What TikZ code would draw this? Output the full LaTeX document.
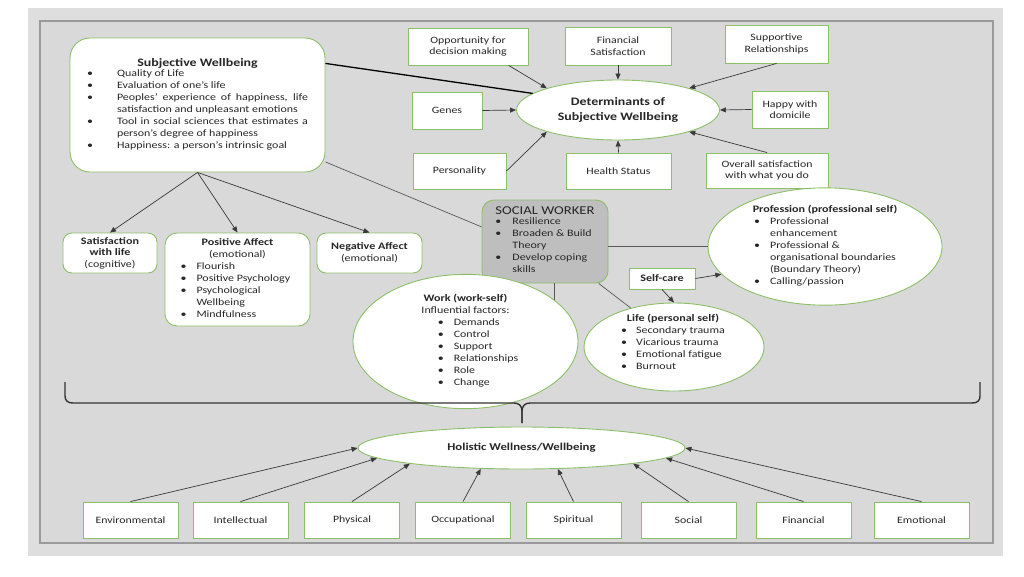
\documentclass[tikz,border=0pt]{standalone}
\usepackage{fontspec}
\setmainfont{Carlito}[FakeStretch=1.22]
\usetikzlibrary{shapes.geometric,arrows.meta}
\definecolor{bgout}{HTML}{DEDEDE}
\definecolor{bgin}{HTML}{D9D9D9}
\definecolor{panelline}{HTML}{9A9A9A}
\definecolor{gline}{HTML}{8CC068}
\definecolor{ac}{HTML}{3A3A3A}
\definecolor{swfill}{HTML}{BEBEBE}
\definecolor{txt}{HTML}{262626}
\newcommand\fsbody{\fontsize{9.8}{12}\selectfont}
\newcommand\fsbox{\fontsize{9.7}{11.5}\selectfont}
\newcommand\fsbot{\fontsize{9.7}{12}\selectfont}
\newcommand\fstitle{\fontsize{11.4}{15}\selectfont\bfseries}
\newcommand\fshol{\fontsize{10.5}{13}\selectfont\bfseries}
\newcommand\fssub{\fontsize{9.9}{12}\selectfont\bfseries}
\begin{document}
\begin{tikzpicture}[x=1pt,y=-1pt,
  gbox/.style={draw=gline, fill=white, line width=0.9pt, rectangle, align=center, inner sep=2pt, text=txt},
  gell/.style={draw=gline, fill=white, line width=0.9pt, ellipse, align=center, inner sep=0pt, text=txt},
  arr/.style={draw=ac, line width=0.7pt, -{Triangle[length=6pt,width=5pt]}},
  ln/.style={draw=ac, line width=0.7pt},
  thinln/.style={draw=black!65, line width=0.7pt},
  brace/.style={draw=black!80, line width=1.4pt},
  plain/.style={inner sep=0pt, align=left, text=txt}
]
% background
\useasboundingbox (0,0) rectangle (1024,576);
\fill[white] (0,0) rectangle (1024,576);
\fill[bgout] (28,8) rectangle (1003,556);
\draw[panelline, fill=bgin, line width=1.2pt] (40,21) rectangle (993,543);

% ---------- Subjective wellbeing ----------
\node[gbox, rounded corners=20pt, minimum width=255pt, minimum height=134pt] (subj) at (197.5,105) {%
{\fstitle Subjective Wellbeing}\\[-2pt]
\fsbody\begin{tabular}[t]{@{}p{30pt}@{}p{191pt}@{}}
\textbullet & Quality of Life\\
\textbullet & Evaluation of one’s life\\
\textbullet & Peoples’ experience of happiness, life\linebreak satisfaction and unpleasant emotions\\
\textbullet & Tool in social sciences that estimates a\linebreak person’s degree of happiness\\
\textbullet & Happiness: a person’s intrinsic goal
\end{tabular}};

% ---------- Determinants ----------
\node[gell, minimum width=203pt, minimum height=60pt, font=\fstitle] (det) at (618,110) {Determinants of\\Subjective Wellbeing};

\node[gbox, minimum width=120pt, minimum height=37pt, font=\fsbox] (opp) at (468,46.5) {Opportunity for\\decision making};
\node[gbox, minimum width=106pt, minimum height=38pt, font=\fsbox] (fin) at (618,46) {Financial\\Satisfaction};
\node[gbox, minimum width=103pt, minimum height=38pt, font=\fsbox] (sup) at (776.5,44) {Supportive\\Relationships};
\node[gbox, minimum width=70pt, minimum height=37pt, font=\fsbox] (genes) at (447,110.5) {Genes};
\node[gbox, minimum width=76pt, minimum height=37pt, font=\fsbox] (happy) at (790,109.5) {Happy with\\domicile};
\node[gbox, minimum width=93pt, minimum height=36pt, font=\fsbox] (pers) at (459.5,171) {Personality};
\node[gbox, minimum width=105pt, minimum height=36pt, font=\fsbox] (health) at (618.5,171) {Health Status};
\node[gbox, minimum width=122pt, minimum height=35pt, font=\fsbox] (overall) at (767,170.5) {Overall satisfaction\\with what you do};

\draw[arr] (opp.-25) -- (det.163);
\draw[arr] (fin.south) -- (det.north);
\draw[arr] (sup.south) -- (det.17);
\draw[arr] (genes.east) -- (det.west);
\draw[arr] (happy.west) -- (det.east);
\draw[arr] (pers.east) -- (det.197);
\draw[arr] (health.north) -- (det.south);
\draw[arr] (overall.north) -- (det.343);
\draw[draw=black, line width=1.3pt] (subj.18) -- (det.169);

% ---------- Affect boxes ----------
\node[gbox, rounded corners=9pt, minimum width=94pt, minimum height=40pt, font=\fsbody] (sat) at (110,253) {{\fssub Satisfaction}\\[-1pt]{\fssub with life}\\(cognitive)};
\node[gbox, rounded corners=12pt, minimum width=145pt, minimum height=93pt, font=\fsbody] (pos) at (237.5,279.5) {%
{\fssub Positive Affect}\\(emotional)\\
\begin{tabular}[t]{@{}p{16pt}@{}p{98pt}@{}}
\textbullet & Flourish\\
\textbullet & Positive Psychology\\
\textbullet & Psychological\\
 & Wellbeing\\
\textbullet & Mindfulness
\end{tabular}};
\node[gbox, rounded corners=9pt, minimum width=105pt, minimum height=40pt, font=\fsbody] (neg) at (369.5,253) {{\fssub Negative Affect}\\(emotional)};

\draw[arr] (subj.south) -- (sat.north);
\draw[arr] (subj.south) -- (pos.north);
\draw[arr] (subj.south) -- (neg.north);

% ---------- Social worker ----------
\node[gbox, fill=swfill, rounded corners=12pt, minimum width=126pt, minimum height=83pt, align=left, font=\fsbody] (sw) at (545,241.5) {%
{\fontsize{12}{14}\selectfont SOCIAL WORKER}\\[-2pt]
\begin{tabular}[t]{@{}p{17pt}@{}l@{}}
\textbullet & Resilience\\
\textbullet & Broaden \& Build\\
 & Theory\\
\textbullet & Develop coping\\
 & skills
\end{tabular}};
\draw[thinln] (subj.-24) -- (sw.167);

% ---------- Work / Life / Profession ----------
\node[gell, minimum width=225pt, minimum height=107pt, font=\fsbody] (work) at (465.5,341.5) {%
{\fssub Work (work-self)}\\Influential factors:\\
\begin{tabular}[t]{@{\hspace{25pt}}p{16pt}@{}l@{}}
\textbullet & Demands\\
\textbullet & Control\\
\textbullet & Support\\
\textbullet & Relationships\\
\textbullet & Role\\
\textbullet & Change
\end{tabular}};

\node[gell, minimum width=180pt, minimum height=88pt] (life) at (674,347) {};
\node[plain, align=center, font=\fsbody] (lifet) at (673,344) {%
{\fssub Life (personal self)}\\
\begin{tabular}[t]{@{}p{15pt}@{}l@{}}
\textbullet & Secondary trauma\\
\textbullet & Vicarious trauma\\
\textbullet & Emotional fatigue\\
\textbullet & Burnout
\end{tabular}};

\node[gell, minimum width=234pt, minimum height=107pt, font=\fsbody] (prof) at (825,246.5) {%
{\fssub Profession (professional self)}\\
\begin{tabular}[t]{@{}p{16pt}@{}l@{}}
\textbullet & Professional\\
 & enhancement\\
\textbullet & Professional \&\\
 & organisational boundaries\\
 & (Boundary Theory)\\
\textbullet & Calling/passion
\end{tabular}};

\node[gbox, minimum width=66pt, minimum height=21pt, font=\fssub] (sc) at (662,278.5) {Self-care};

\draw[thinln] (work.25) -- (work.25 |- sw.south);
\draw[thinln] (sw.-38) -- (life.138);
\draw[thinln] (prof.west) -- (prof.west -| sw.east);
\draw[arr] (sc.east) -- (prof.195);
\draw[arr] (sc.south) -- (life.north);

% ---------- Brace ----------
\coordinate (bl) at (65,382);
\coordinate (br) at (980,382);
\coordinate (bt) at (522,423);
\draw[brace] (bl) -- (65,396) .. controls (65,401) and (68,403) .. (73,403) -- (514,403)
  .. controls (519,403) and (522,406) .. (522,411) -- (bt);
\draw[brace] (bt) -- (522,411) .. controls (522,406) and (525,403) .. (530,403) -- (972,403)
  .. controls (977,403) and (980,401) .. (980,396) -- (br);

% ---------- Holistic ----------
\node[gell, minimum width=327pt, minimum height=42pt, font=\fshol] (hol) at (521.5,448) {Holistic Wellness/Wellbeing};

\node[gbox, minimum width=95pt, minimum height=36pt, font=\fsbot] (env) at (130.5,520) {Environmental};
\node[gbox, minimum width=95pt, minimum height=36pt, font=\fsbot] (int) at (240.5,520) {Intellectual};
\node[gbox, minimum width=95pt, minimum height=36pt, font=\fsbot] (phy) at (352,520) {Physical};
\node[gbox, minimum width=95pt, minimum height=36pt, font=\fsbot] (occ) at (463,520) {Occupational};
\node[gbox, minimum width=95pt, minimum height=36pt, font=\fsbot] (spi) at (573.5,520) {Spiritual};
\node[gbox, minimum width=95pt, minimum height=36pt, font=\fsbot] (soc) at (688.5,520) {Social};
\node[gbox, minimum width=95pt, minimum height=36pt, font=\fsbot] (fin2) at (803.5,520) {Financial};
\node[gbox, minimum width=95pt, minimum height=36pt, font=\fsbot] (emo) at (921.5,520) {Emotional};

\draw[arr] (env.north) -- (hol.west);
\draw[arr] (int.north) -- (hol.184);
\draw[arr] (phy.north) -- (hol.188);
\draw[arr] (occ.north) -- (hol.207);
\draw[arr] (spi.north) -- (hol.330);
\draw[arr] (soc.north) -- (hol.352);
\draw[arr] (fin2.north) -- (hol.356);
\draw[arr] (emo.north) -- (hol.east);
\end{tikzpicture}
\end{document}
